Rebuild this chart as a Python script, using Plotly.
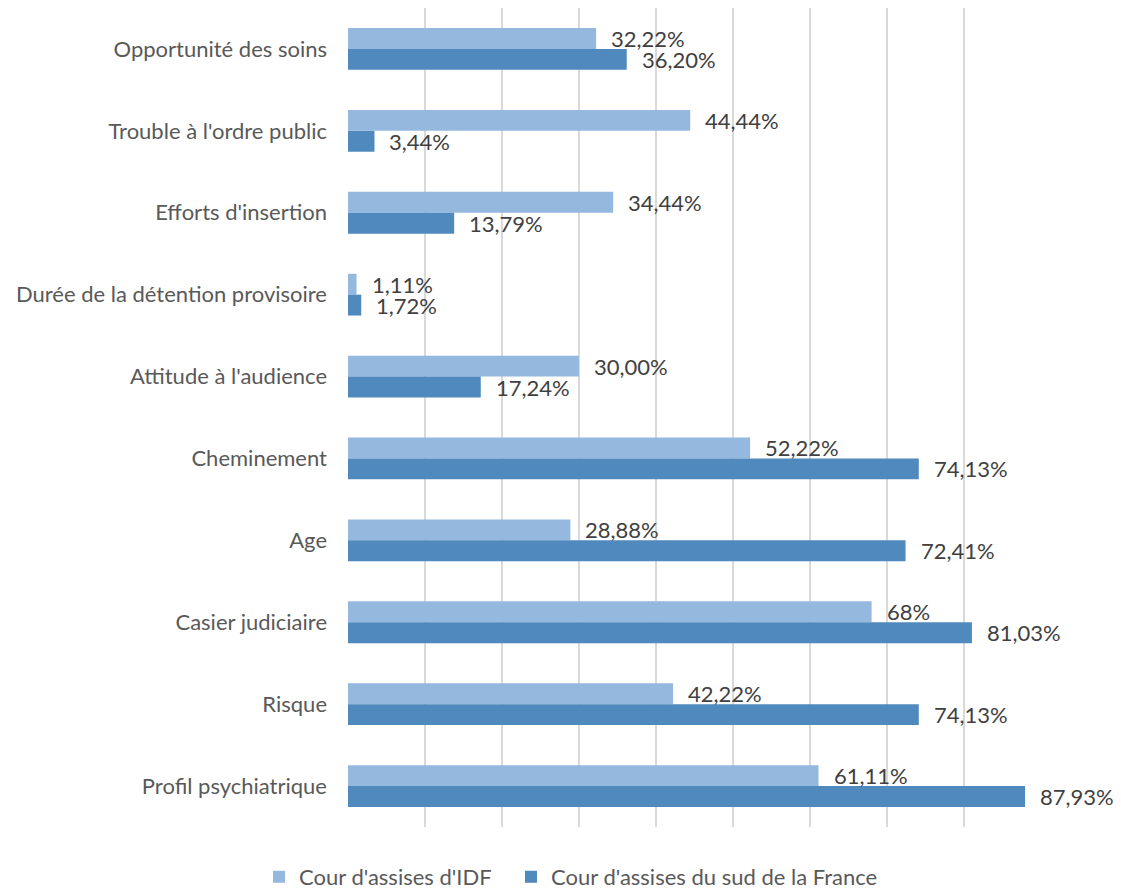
import plotly.graph_objects as go

categories = [
    "Opportunité des soins",
    "Trouble à l'ordre public",
    "Efforts d'insertion",
    "Durée de la détention provisoire",
    "Attitude à l'audience",
    "Cheminement",
    "Age",
    "Casier judiciaire",
    "Risque",
    "Profil psychiatrique",
]
idf_values = [32.22, 44.44, 34.44, 1.11, 30.00, 52.22, 28.88, 68.00, 42.22, 61.11]
sud_values = [36.20, 3.44, 13.79, 1.72, 17.24, 74.13, 72.41, 81.03, 74.13, 87.93]
idf_labels = ["32,22%", "44,44%", "34,44%", "1,11%", "30,00%", "52,22%", "28,88%", "68%", "42,22%", "61,11%"]
sud_labels = ["36,20%", "3,44%", "13,79%", "1,72%", "17,24%", "74,13%", "72,41%", "81,03%", "74,13%", "87,93%"]
series_names = ["Cour d'assises d'IDF", "Cour d'assises du sud de la France"]
x_ticks = [0, 10, 20, 30, 40, 50, 60, 70, 80, 90]

LIGHT = "#95B8DF"
DARK = "#4F89BD"
FONT = "Lato"
FS = 22

fig = go.Figure()
fig.add_trace(go.Bar(y=categories, x=idf_values, orientation="h", name=series_names[0],
                     marker=dict(color=LIGHT, line=dict(width=0)), legend="legend"))
fig.add_trace(go.Bar(y=categories, x=sud_values, orientation="h", name=series_names[1],
                     marker=dict(color=DARK, line=dict(width=0)), legend="legend2"))

annotations = []
for cat, v, lab in zip(categories, idf_values, idf_labels):
    annotations.append(dict(x=v, y=cat, text=lab, showarrow=False, xanchor="left",
                            xshift=13, yshift=10.5, font=dict(family=FONT, size=FS, color="#404040")))
for cat, v, lab in zip(categories, sud_values, sud_labels):
    annotations.append(dict(x=v, y=cat, text=lab, showarrow=False, xanchor="left",
                            xshift=13, yshift=-10.5, font=dict(family=FONT, size=FS, color="#404040")))

legend_common = dict(orientation="h", xref="paper", xanchor="left", y=-0.061, yanchor="middle",
                     font=dict(family=FONT, size=FS, color="#595959"), itemwidth=30)

fig.update_layout(
    width=1113, height=891,
    margin=dict(l=340, r=80, t=0, b=72, autoexpand=False),
    paper_bgcolor="white", plot_bgcolor="white",
    barmode="group", bargap=0.49, bargroupgap=0,
    font=dict(family=FONT, size=FS, color="#595959"),
    annotations=annotations,
    legend=dict(x=-0.1284, **legend_common),
    legend2=dict(x=0.2352, **legend_common),
    showlegend=True,
)
fig.update_xaxes(range=[0, 90], tickvals=x_ticks, showticklabels=False, showgrid=True,
                 gridcolor="#D9D9D9", gridwidth=1.5, zeroline=False, showline=False, fixedrange=True)
fig.update_yaxes(autorange="reversed", showgrid=False, showline=False, ticks="",
                 ticklabelstandoff=20, tickfont=dict(family=FONT, size=FS, color="#595959"))

fig.write_html("out.html")
